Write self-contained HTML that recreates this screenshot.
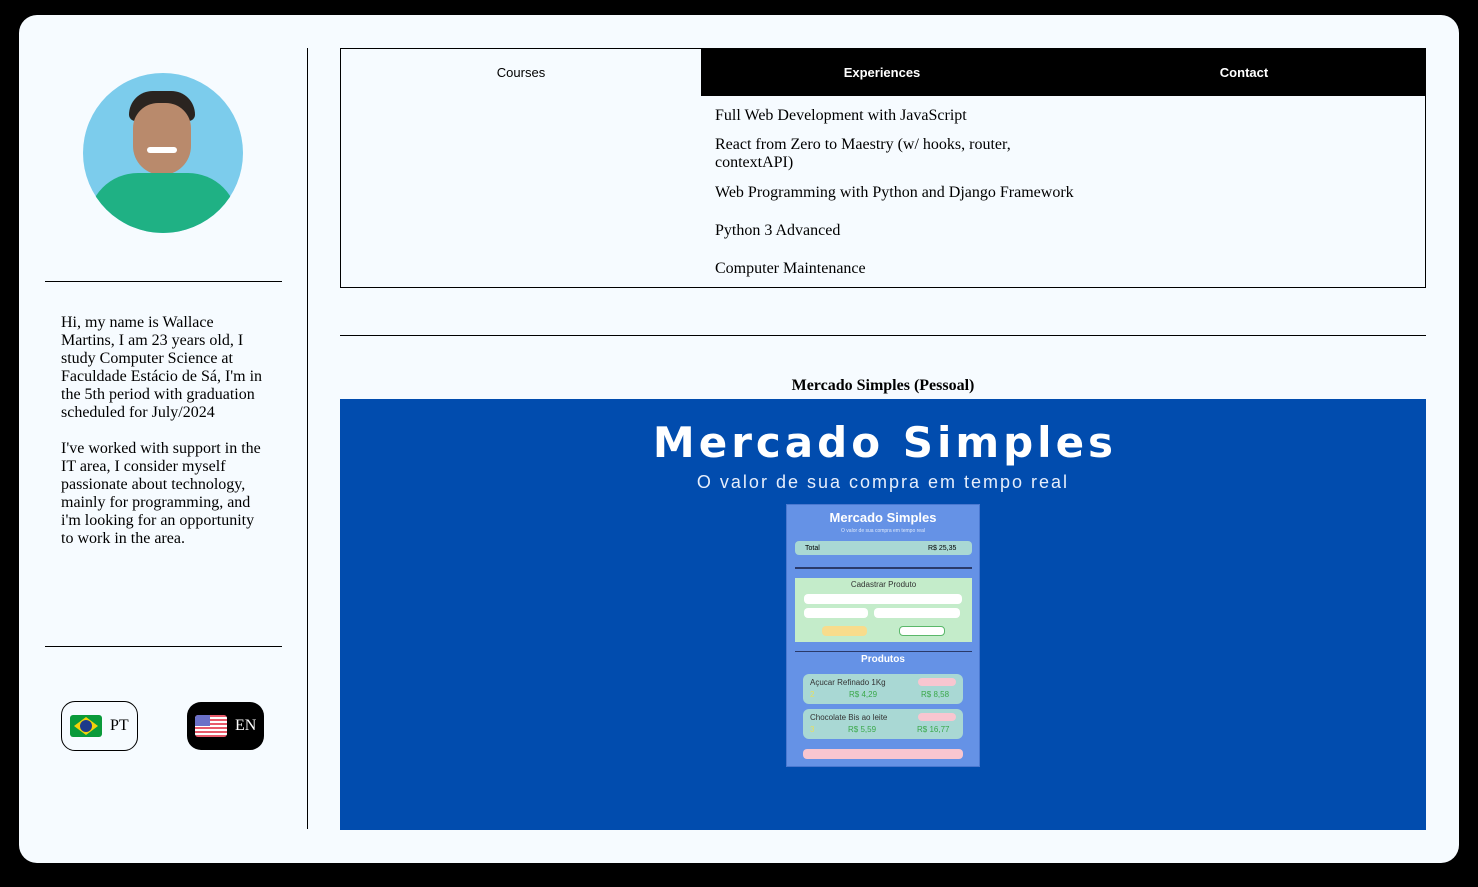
<!DOCTYPE html>
<html><head><meta charset="utf-8"><style>
*{margin:0;padding:0;box-sizing:border-box}
body{width:1478px;height:887px;background:#000;position:relative;overflow:hidden;font-family:"Liberation Serif",serif;color:#000}
.a{position:absolute}
.card{left:19px;top:15px;width:1440px;height:848px;background:#f6fbff;border-radius:18px}
.t{font-size:16px;line-height:18px;white-space:nowrap}
.s{font-family:"Liberation Sans",sans-serif}
.m{font-family:"Liberation Sans",sans-serif;font-size:7px;line-height:9px;white-space:nowrap;position:absolute}
</style></head><body>
<div class="a card"></div>
<!-- photo -->
<div class="a" style="left:83px;top:73px;width:160px;height:160px;border-radius:50%;overflow:hidden;background:#7cccec">
  <div class="a" style="left:46px;top:18px;width:66px;height:30px;border-radius:30px 30px 8px 8px;background:#2a2420"></div>
  <div class="a" style="left:50px;top:30px;width:58px;height:72px;border-radius:26px 26px 30px 30px;background:#b98a6c"></div>
  <div class="a" style="left:64px;top:74px;width:30px;height:6px;border-radius:4px;background:#fff"></div>
  <div class="a" style="left:5px;top:100px;width:150px;height:90px;border-radius:50px 50px 0 0;background:#1fb184"></div>
</div>
<div class="a" style="left:45px;top:281px;width:237px;height:1px;background:#000"></div>
<div class="a t" style="left:61px;top:314px;white-space:normal;width:206px">Hi, my name is Wallace Martins, I am 23 years old, I study Computer Science at Faculdade Estácio de Sá, I'm in the 5th period with graduation scheduled for July/2024<br><br>I've worked with support in the IT area, I consider myself passionate about technology, mainly for programming, and i'm looking for an opportunity to work in the area.</div>
<div class="a" style="left:45px;top:646px;width:237px;height:1px;background:#000"></div>
<div class="a" style="left:61px;top:701px;width:77px;height:50px;border:1px solid #000;border-radius:14px;background:#f6fbff"></div>
<div class="a" style="left:70px;top:715px;width:32px;height:22px;background:#0a9a3a;border-radius:3px"></div>
<div class="a" style="left:74px;top:717px;width:24px;height:18px;background:#f4d20a;clip-path:polygon(50% 0,100% 50%,50% 100%,0 50%)"></div>
<div class="a" style="left:80px;top:720px;width:12px;height:12px;border-radius:50%;background:#1d3a8a"></div>
<div class="a t" style="left:110px;top:717px">PT</div>
<div class="a" style="left:187px;top:702px;width:77px;height:48px;border-radius:14px;background:#000"></div>
<div class="a" style="left:195px;top:715px;width:32px;height:22px;border-radius:3px;background:repeating-linear-gradient(#e85a6a 0 2px,#fff 2px 4px)"></div>
<div class="a" style="left:195px;top:715px;width:15px;height:11px;background:#6a70c8;border-radius:3px 0 0 0"></div>
<div class="a t" style="left:235px;top:717px;color:#fff">EN</div>
<div class="a" style="left:307px;top:48px;width:1px;height:781px;background:#000"></div>
<!-- tabs -->
<div class="a" style="left:340px;top:48px;width:1086px;height:240px;border:1px solid #000"></div>
<div class="a" style="left:701px;top:48px;width:725px;height:48px;background:#000"></div>
<div class="a t s" style="left:341px;top:64px;width:360px;text-align:center;font-size:13px">Courses</div>
<div class="a t s" style="left:701px;top:64px;width:362px;text-align:center;font-size:13px;color:#fff;font-weight:bold">Experiences</div>
<div class="a t s" style="left:1063px;top:64px;width:362px;text-align:center;font-size:13px;color:#fff;font-weight:bold">Contact</div>
<div class="a t" style="left:715px;top:107px">Full Web Development with JavaScript</div>
<div class="a t" style="left:715px;top:136px">React from Zero to Maestry (w/ hooks, router,<br>contextAPI)</div>
<div class="a t" style="left:715px;top:184px">Web Programming with Python and Django Framework</div>
<div class="a t" style="left:715px;top:222px">Python 3 Advanced</div>
<div class="a t" style="left:715px;top:260px">Computer Maintenance</div>
<div class="a" style="left:340px;top:335px;width:1086px;height:1px;background:#000"></div>
<div class="a t" style="left:340px;top:377px;width:1086px;text-align:center;font-weight:bold">Mercado Simples (Pessoal)</div>
<!-- project image -->
<div class="a" style="left:340px;top:399px;width:1086px;height:431px;background:#014cae"></div>
<div class="a" style="left:342px;top:418px;width:1086px;text-align:center;color:#fff;font-weight:bold;font-family:'DejaVu Sans',sans-serif;font-size:42px;line-height:50px;letter-spacing:4px">Mercado Simples</div>
<div class="a s" style="left:340px;top:472px;width:1086px;text-align:center;color:#e6eefc;font-size:18px;line-height:20px;letter-spacing:2px">O valor de sua compra em tempo real</div>
<div class="a" style="left:786px;top:504px;width:194px;height:263px;background:#6592e6;border:1px solid #4a78d0"></div>
<div class="a s" style="left:786px;top:510px;width:194px;text-align:center;color:#fff;font-weight:bold;font-size:13px">Mercado Simples</div>
<div class="m" style="left:786px;top:527px;width:194px;text-align:center;color:#dde8fb;font-size:5px">O valor de sua compra em tempo real</div>
<div class="a" style="left:795px;top:541px;width:177px;height:14px;background:#a9d8d4;border-radius:4px"></div>
<div class="m" style="left:805px;top:544px">Total</div>
<div class="m" style="left:928px;top:544px">R$ 25,35</div>
<div class="a" style="left:795px;top:567px;width:177px;height:2px;background:#2a3a6a"></div>
<div class="a" style="left:795px;top:578px;width:177px;height:64px;background:#c4ecca"></div>
<div class="m" style="left:795px;top:580px;width:177px;text-align:center;font-size:8px;color:#333">Cadastrar Produto</div>
<div class="a" style="left:804px;top:594px;width:158px;height:10px;background:#fff;border-radius:4px"></div>
<div class="a" style="left:804px;top:608px;width:64px;height:10px;background:#fff;border-radius:4px"></div>
<div class="a" style="left:874px;top:608px;width:86px;height:10px;background:#fff;border-radius:4px"></div>
<div class="a" style="left:822px;top:626px;width:45px;height:10px;background:#f8dc8c;border-radius:4px"></div>
<div class="a" style="left:899px;top:626px;width:46px;height:10px;background:#fff;border:1px solid #5ab86a;border-radius:4px"></div>
<div class="a" style="left:795px;top:651px;width:177px;height:1px;background:#2a3a6a"></div>
<div class="a s" style="left:786px;top:654px;width:194px;text-align:center;color:#fff;font-weight:bold;font-size:10px">Produtos</div>
<div class="a" style="left:803px;top:674px;width:160px;height:30px;background:#a9d8d4;border-radius:6px"></div>
<div class="m" style="left:810px;top:678px;font-size:8px;color:#333">Açucar Refinado 1Kg</div>
<div class="m" style="left:810px;top:690px;font-size:8px;color:#e8e060">2</div>
<div class="m" style="left:849px;top:690px;font-size:8px;color:#3aa84a">R$ 4,29</div>
<div class="m" style="left:921px;top:690px;font-size:8px;color:#3aa84a">R$ 8,58</div>
<div class="a" style="left:803px;top:709px;width:160px;height:30px;background:#a9d8d4;border-radius:6px"></div>
<div class="m" style="left:810px;top:713px;font-size:8px;color:#333">Chocolate Bis ao leite</div>
<div class="m" style="left:810px;top:725px;font-size:8px;color:#e8e060">3</div>
<div class="m" style="left:848px;top:725px;font-size:8px;color:#3aa84a">R$ 5,59</div>
<div class="m" style="left:917px;top:725px;font-size:8px;color:#3aa84a">R$ 16,77</div>
<div class="a" style="left:918px;top:678px;width:38px;height:8px;background:#f8c6d0;border-radius:4px"></div>
<div class="a" style="left:918px;top:713px;width:38px;height:8px;background:#f8c6d0;border-radius:4px"></div>
<div class="a" style="left:803px;top:749px;width:160px;height:10px;background:#f8c6d0;border-radius:4px"></div>
</body></html>
